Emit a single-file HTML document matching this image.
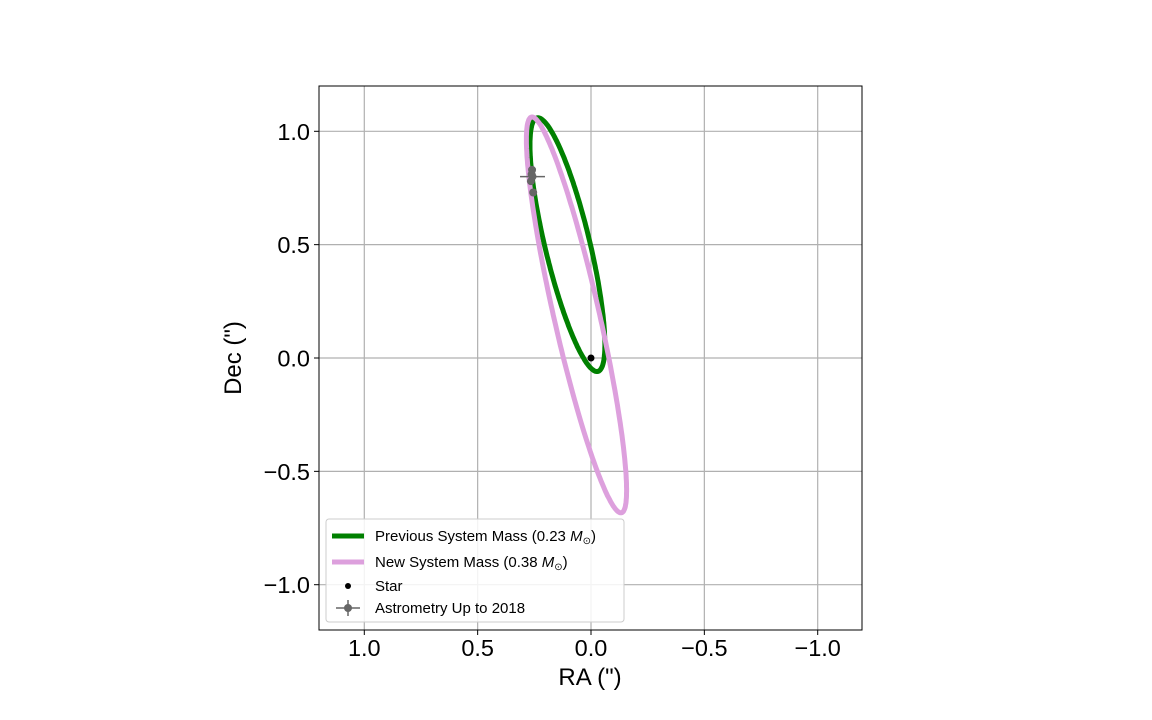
<!DOCTYPE html>
<html><head><meta charset="utf-8">
<style>
html,body{margin:0;padding:0;background:#fff;}
svg{display:block;font-family:"Liberation Sans","DejaVu Sans",sans-serif;}
</style></head>
<body>
<svg id="chart" width="1152" height="720" viewBox="0 0 1152 720" xmlns="http://www.w3.org/2000/svg">
<g id="grid"></g>
<g id="series"></g>
<rect x="319" y="86" width="543" height="544" fill="none" stroke="#000" stroke-width="1"/>
<g id="ticks"></g>
<text x="590" y="685" font-size="24" text-anchor="middle">RA (")</text>
<text transform="translate(241,358) rotate(-90)" font-size="24" text-anchor="middle">Dec (")</text>
<g>
<rect x="326" y="519" width="298" height="103" rx="3" fill="#fff" fill-opacity="0.85" stroke="#ccc"/>
<g>
<line x1="332" y1="536" x2="364" y2="536" stroke="#008000" stroke-width="5"/>
<text x="375" y="541" font-size="15">Previous System Mass (0.23 <tspan font-style="italic">M</tspan><tspan font-size="10" dy="3">⊙</tspan><tspan dy="-3">)</tspan></text>
</g>
<g>
<line x1="332" y1="562" x2="364" y2="562" stroke="#dda0dd" stroke-width="5"/>
<text x="375" y="567" font-size="15">New System Mass (0.38 <tspan font-style="italic">M</tspan><tspan font-size="10" dy="3">⊙</tspan><tspan dy="-3">)</tspan></text>
</g>
<g>
<circle cx="348" cy="586" r="3" fill="#000"/>
<text x="375" y="591" font-size="15">Star</text>
</g>
<g>
<line x1="336" y1="608" x2="360" y2="608" stroke="#666" stroke-width="1.5"/>
<line x1="348" y1="600" x2="348" y2="616" stroke="#666" stroke-width="1.5"/>
<circle cx="348" cy="608" r="4" fill="#666"/>
<text x="375" y="613" font-size="15">Astrometry Up to 2018</text>
</g>
</g>
</svg>
<script>
// axis ticks
const xTicks = [1.0, 0.5, 0.0, -0.5, -1.0];
const xTickLabels = ["1.0", "0.5", "0.0", "\u22120.5", "\u22121.0"];
const yTicks = [1.0, 0.5, 0.0, -0.5, -1.0];
const yTickLabels = ["1.0", "0.5", "0.0", "\u22120.5", "\u22121.0"];
// orbit parameters (center RA, center Dec, semi-major, semi-minor, tilt deg from Dec axis toward +RA)
const orbitNames = ["previous-orbit", "new-orbit"];
const orbitCenterRA = [0.104, 0.064];
const orbitCenterDec = [0.50, 0.19];
const orbitSemiMajor = [0.575, 0.895];
const orbitSemiMinor = [0.099, 0.10];
const orbitTilt = [13.5, 12.8];
const orbitColors = ["#008000", "#dda0dd"];
// astrometry
const astroRA = [0.26, 0.262, 0.258, 0.265, 0.255];
const astroDec = [0.83, 0.81, 0.80, 0.78, 0.73];
const astroErrRA = [0.01, 0.01, 0.055, 0.01, 0.01];
const astroErrDec = [0.01, 0.01, 0.01, 0.01, 0.01];
const starRA = [0.0], starDec = [0.0];

const NS = "http://www.w3.org/2000/svg";
const X = v => 591 + (0 - v) * 226.7;
const Y = v => 358 - v * 226.7;
function mk(tag, attrs, parent){const e=document.createElementNS(NS,tag);for(const k in attrs)e.setAttribute(k,attrs[k]);parent.appendChild(e);return e;}
const grid=document.getElementById('grid'), ticks=document.getElementById('ticks'), series=document.getElementById('series');
xTicks.forEach((t,i)=>{
  const l=mk('line',{x1:X(t),x2:X(t),y1:86,y2:630,stroke:'#b0b0b0','stroke-width':1.2},grid);
  
  
  const tk=mk('line',{x1:X(t),x2:X(t),y1:630,y2:635,stroke:'#000'},ticks);
  
  
  const tx=mk('text',{x:X(t),y:656,'font-size':23.5,'text-anchor':'middle'},ticks);
  tx.textContent=xTickLabels[i];
  
  
});
yTicks.forEach((t,i)=>{
  const l=mk('line',{x1:319,x2:862,y1:Y(t),y2:Y(t),stroke:'#b0b0b0','stroke-width':1.2},grid);
  
  
  const tk=mk('line',{x1:314,x2:319,y1:Y(t),y2:Y(t),stroke:'#000'},ticks);
  
  
  const tx=mk('text',{x:310,y:Y(t)+8.5,'font-size':23.5,'text-anchor':'end'},ticks);
  tx.textContent=yTickLabels[i];
  
  
});
orbitNames.forEach((n,i)=>{
  const th=orbitTilt[i]*Math.PI/180;
  let d='';
  for(let k=0;k<=240;k++){
    const p=k/240*2*Math.PI;
    const u=orbitSemiMajor[i]*Math.cos(p), w=orbitSemiMinor[i]*Math.sin(p);
    const ra=orbitCenterRA[i]+u*Math.sin(th)+w*Math.cos(th);
    const de=orbitCenterDec[i]+u*Math.cos(th)-w*Math.sin(th);
    d+=(k?'L':'M')+X(ra).toFixed(1)+','+Y(de).toFixed(1);
  }
  const p=mk('path',{d:d+'Z',fill:'none',stroke:orbitColors[i],'stroke-width':5},series);
  
  
});
astroRA.forEach((ra,i)=>{
  const g=mk('g',{},series);
  
  
  mk('line',{x1:X(ra+astroErrRA[i]),x2:X(ra-astroErrRA[i]),y1:Y(astroDec[i]),y2:Y(astroDec[i]),stroke:'#666','stroke-width':1.5},g);
  mk('line',{x1:X(ra),x2:X(ra),y1:Y(astroDec[i]+astroErrDec[i]),y2:Y(astroDec[i]-astroErrDec[i]),stroke:'#666','stroke-width':1.5},g);
  mk('circle',{cx:X(ra),cy:Y(astroDec[i]),r:4,fill:'#666'},g);
});
starRA.forEach((ra,i)=>{
  const c=mk('circle',{cx:X(ra),cy:Y(starDec[i]),r:3.5,fill:'#000'},series);
  
  
});
</script>
</body></html>
